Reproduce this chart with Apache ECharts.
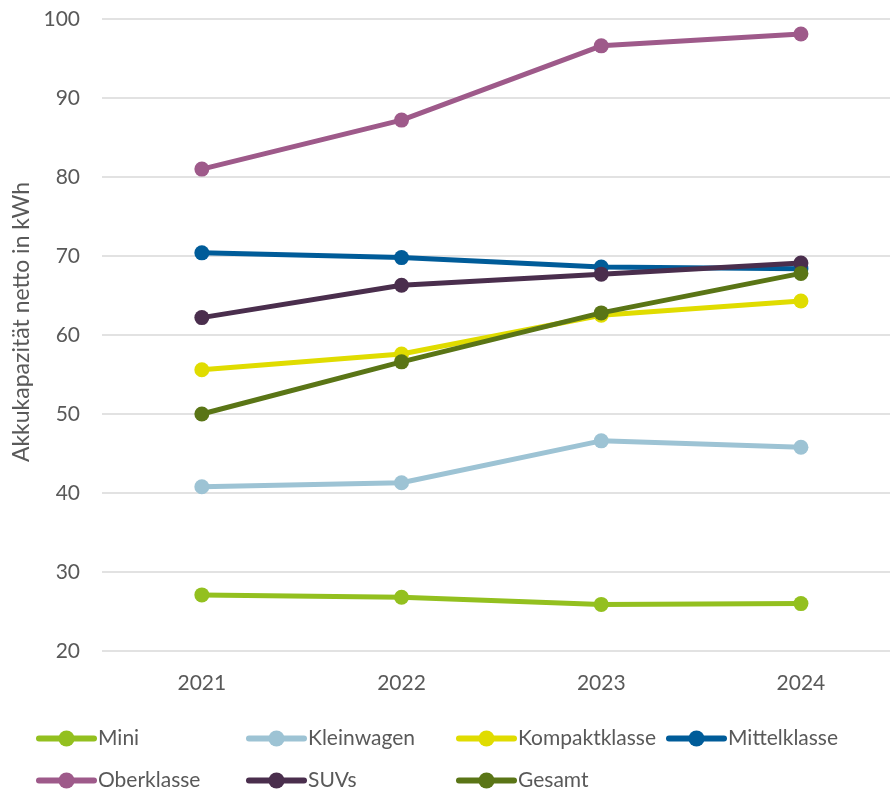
<!DOCTYPE html>
<html><head><meta charset="utf-8">
<script src="https://cdn.jsdelivr.net/npm/echarts@6/dist/echarts.min.js"></script>
<style>html,body{margin:0;padding:0;background:#fff}#c{width:890px;height:796px}</style>
</head><body><div id="c"></div>
<script>
const years = [2021, 2022, 2023, 2024];
const mini = [27.1, 26.8, 25.9, 26.0];
const kleinwagen = [40.8, 41.3, 46.6, 45.8];
const kompaktklasse = [55.6, 57.6, 62.5, 64.3];
const mittelklasse = [70.4, 69.8, 68.6, 68.4];
const oberklasse = [81.0, 87.2, 96.6, 98.1];
const suvs = [62.2, 66.3, 67.7, 69.1];
const gesamt = [50.0, 56.6, 62.8, 67.8];
const yTicks = [20, 30, 40, 50, 60, 70, 80, 90, 100];

const names = ['Mini','Kleinwagen','Kompaktklasse','Mittelklasse','Oberklasse','SUVs','Gesamt'];
const datas = [mini, kleinwagen, kompaktklasse, mittelklasse, oberklasse, suvs, gesamt];
const colors = ['#93C01F','#9DC3D4','#E0DC00','#005C99','#9E5A8A','#4A2E4D','#5A7516'];
const font = 'Lato, "Open Sans", sans-serif';

const series = names.map((n,i)=>({
  name:n, type:'line', data:datas[i].map((v,j)=>[years[j], v]), symbol:'circle', symbolSize:15,
  itemStyle:{color:colors[i]}, lineStyle:{width:5, color:colors[i]}, z: 10+i
}));
const legendPos = [[36,738],[246,738],[456,738],[666,738],[36,780],[246,780],[456,780]];
const legends = names.map((n,i)=>({
  data:[n], left:legendPos[i][0], top:legendPos[i][1]-10, itemWidth:55, itemHeight:20,
  padding:0, lineStyle:{width:6, cap:'round'},
  textStyle:{fontFamily:font, fontSize:21, color:'#595959', padding:[0,0,0,-1]},
  selectedMode:false
}));

const chart = echarts.init(document.getElementById('c'), null, {renderer:'canvas'});
chart.setOption({
  animation:false,
  grid:{left:102, right:0, top:19, bottom:145, containLabel:false},
  xAxis:{type:'value', min:2020.5, max:2024.446,
    axisLine:{show:false}, axisTick:{show:false}, splitLine:{show:false},
    axisLabel:{customValues:years, fontFamily:font, fontSize:21, color:'#595959', margin:22, formatter:v=>String(v)}},
  yAxis:{type:'value', min:yTicks[0], max:yTicks[yTicks.length-1], interval:10,
    axisLine:{show:false}, axisTick:{show:false},
    splitLine:{lineStyle:{color:'#D9D9D9', width:1.5}},
    axisLabel:{fontFamily:font, fontSize:21, color:'#595959', margin:22}},
  legend:legends,
  graphic:[{type:'text', x:22, y:322, rotation:Math.PI/2,
    style:{text:'Akkukapazität netto in kWh', fontFamily:font, fontSize:23, fill:'#595959', align:'center', verticalAlign:'middle'}}],
  series:series
});
</script></body></html>
